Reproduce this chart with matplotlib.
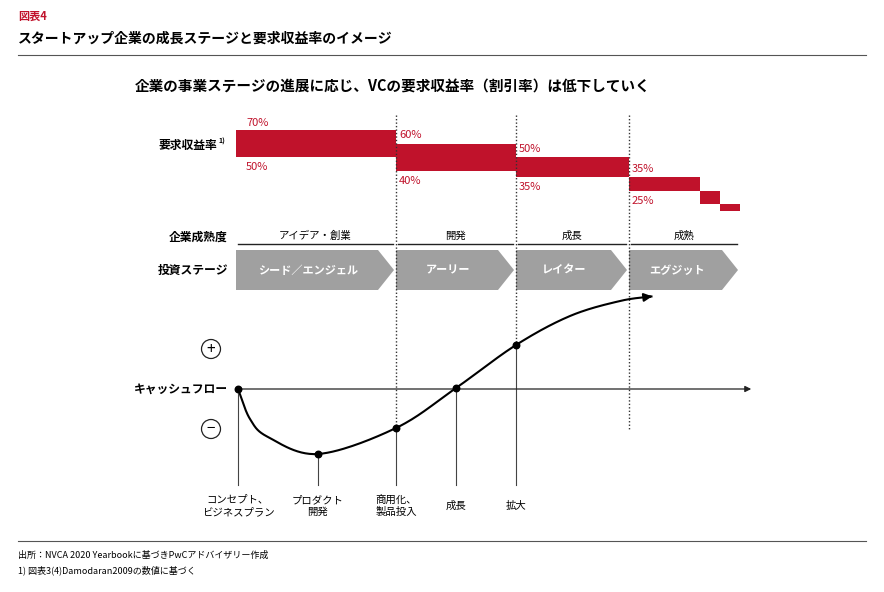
import numpy as np
import matplotlib.pyplot as plt
from matplotlib.patches import Polygon, Circle

plt.rcParams["font.family"] = "Noto Sans CJK JP"

RED = "#c0122b"
GREY = "#a0a0a0"

# required return ranges per stage (high, low) in %
rate_high = [70, 60, 50, 35, 25, 15]
rate_low = [50, 40, 35, 25, 15, 10]
rate_x = [236, 396, 516, 629, 700, 720, 740]
rate_labels = [("70%", "50%"), ("60%", "40%"), ("50%", "35%"), ("35%", "25%")]

maturity = ["アイデア・創業", "開発", "成長", "成熟"]
stages = ["シード／エンジェル", "アーリー", "レイター", "エグジット"]
stage_x = [236, 396, 516, 629, 740]

# cash flow curve (x position, value)
curve_x = [238, 250, 268, 318, 396, 456, 516, 570, 620, 655]
curve_v = [0, -30, -48, -65, -39, 1, 44, 73, 88, 93]
# milestone points
cf_x = [238, 318, 396, 456, 516]
cf_v = [0, -65, -39, 1, 44]
cf_labels = ["コンセプト、\nビジネスプラン", "プロダクト\n開発", "商用化、\n製品投入", "成長", "拡大"]


def rate_y(r):
    return 224.5 - 1.35 * r


def cf_y(v):
    return 389 - v


def catmull(xs, ys, n=30):
    px = [2 * xs[0] - xs[1]] + list(xs) + [2 * xs[-1] - xs[-2]]
    py = [2 * ys[0] - ys[1]] + list(ys) + [2 * ys[-1] - ys[-2]]
    ox, oy = [], []
    t = np.linspace(0, 1, n)
    for i in range(1, len(px) - 2):
        for p, o in ((px, ox), (py, oy)):
            p0, p1, p2, p3 = p[i - 1], p[i], p[i + 1], p[i + 2]
            o.extend(0.5 * (2 * p1 + (-p0 + p2) * t + (2 * p0 - 5 * p1 + 4 * p2 - p3) * t**2
                            + (-p0 + 3 * p1 - 3 * p2 + p3) * t**3))
    return ox, oy


fig = plt.figure(figsize=(8.84, 5.92), dpi=100)
ax = fig.add_axes([0, 0, 1, 1])
ax.set_xlim(0, 884)
ax.set_ylim(592, 0)
ax.axis("off")

# header
ax.text(18, 16, "図表4", color=RED, fontsize=8, weight="bold", va="center")
ax.text(18, 39, "スタートアップ企業の成長ステージと要求収益率のイメージ", fontsize=10, weight="bold", va="center")
ax.plot([18, 866], [55, 55], color="#555555", lw=0.8)
ax.text(393, 87, "企業の事業ステージの進展に応じ、VCの要求収益率（割引率）は低下していく",
        fontsize=10.5, weight="bold", ha="center", va="center")

# required return bars
for i in range(len(rate_high)):
    x0, x1 = rate_x[i], rate_x[i + 1]
    y0, y1 = rate_y(rate_high[i]), rate_y(rate_low[i])
    ax.fill_between([x0, x1], y0, y1, color=RED, lw=0)
for i, (hi, lo) in enumerate(rate_labels):
    x = rate_x[i] + (10 if i == 0 else 3)
    ax.text(x, rate_y(rate_high[i]) - (7 if i == 0 else 8), hi, color=RED, fontsize=8, va="center")
    ax.text(x, rate_y(rate_low[i]) + 10, lo, color=RED, fontsize=8, va="center")
ax.text(217, 145, "要求収益率", fontsize=8.5, weight="bold", ha="right", va="center")
ax.text(218, 141, "1)", fontsize=5, weight="bold", ha="left", va="center")

# dotted separators
for x, yb in zip(stage_x[1:4], [428, 345, 430]):
    ax.plot([x, x], [115, yb], color="#333333", lw=1, ls=(0, (1, 1.5)))

# maturity
ax.text(228, 237, "企業成熟度", fontsize=8.5, weight="bold", ha="right", va="center")
for i, m in enumerate(maturity):
    x0, x1 = stage_x[i] + 2, stage_x[i + 1] - 3
    ax.plot([x0, x1], [244, 244], color="#222222", lw=1)
    ax.text((x0 + x1) / 2, 236, m, fontsize=7.5, ha="center", va="center")

# stage chevrons
ax.text(228, 270, "投資ステージ", fontsize=8.5, weight="bold", ha="right", va="center")
for i, s in enumerate(stages):
    x0, x1 = stage_x[i], stage_x[i + 1] - 2
    ax.add_patch(Polygon([(x0, 250), (x1 - 16, 250), (x1, 270), (x1 - 16, 290), (x0, 290)],
                         closed=True, color=GREY, lw=0))
    ax.text((x0 + x1 - 14) / 2, 270, s, fontsize=8, weight="bold", color="white", ha="center", va="center")

# cash flow axis
ax.annotate("", xy=(754, 389), xytext=(238, 389),
            arrowprops=dict(arrowstyle="-|>", color="#222222", lw=0.9, mutation_scale=9))
ax.text(228, 389, "キャッシュフロー", fontsize=8.5, weight="bold", ha="right", va="center")
for y, sym in [(349, "+"), (429, "−")]:
    ax.add_patch(Circle((211, y), 9.5, fill=False, ec="#222222", lw=0.9))
    ax.text(211, y, sym, fontsize=11, ha="center", va="center")

sx, sy = catmull(curve_x, [cf_y(v) for v in curve_v])
ax.plot(sx[:-3], sy[:-3], color="black", lw=1.5)
ax.annotate("", xy=(sx[-1], sy[-1]), xytext=(sx[-8], sy[-8]),
            arrowprops=dict(arrowstyle="-|>", color="black", lw=1.5, mutation_scale=12))
cy = [cf_y(v) for v in cf_v]
ax.scatter(cf_x, cy, s=22, color="black", zorder=5)
for x, y, lab in zip(cf_x, cy, cf_labels):
    ax.plot([x, x], [y, 485], color="#444444", lw=0.8)
    ax.text(x, 506, lab, fontsize=7.5, ha="center", va="center", linespacing=1.3)

# footer
ax.plot([18, 866], [541, 541], color="#555555", lw=0.8)
ax.text(18, 555, "出所：NVCA 2020 Yearbookに基づきPwCアドバイザリー作成", fontsize=6.5, va="center")
ax.text(18, 570, "1) 図表3(4)Damodaran2009の数値に基づく", fontsize=6.5, va="center")

fig.savefig("out.png", dpi=100)
